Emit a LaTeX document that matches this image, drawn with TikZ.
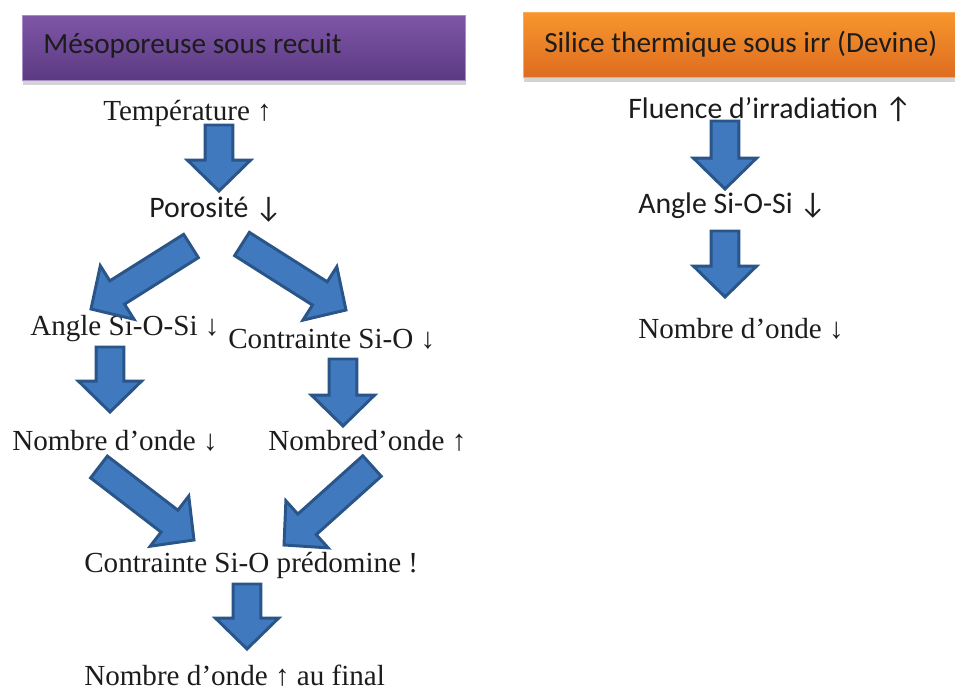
\documentclass[tikz,border=0pt]{standalone}
\usepackage{fontspec}
\setmainfont{Liberation Serif}
\newfontfamily\calibfont{Carlito}
\usetikzlibrary{calc,shadows}

\definecolor{arrowfill}{RGB}{65,121,190}
\definecolor{arrowedge}{RGB}{41,85,136}
\definecolor{textdark}{RGB}{28,28,28}
\definecolor{purpletop}{RGB}{126,86,166}
\definecolor{purplebot}{RGB}{92,58,130}
\definecolor{purpleline}{RGB}{168,140,200}
\definecolor{orangetop}{RGB}{247,150,45}
\definecolor{orangebot}{RGB}{222,108,32}
\definecolor{orangeline}{RGB}{250,172,85}

% block arrow from tail #1 to tip #2
\newcommand{\fatarrow}[2]{%
  \coordinate (#1#2neck) at ($(#2)!22pt!(#1)$);
  \draw[fatarrow] ($(#1)!9.8pt!90:(#2)$) -- ($(#1#2neck)!9.8pt!90:(#2)$)
    -- ($(#1#2neck)!22.5pt!90:(#2)$) -- (#2) -- ($(#1#2neck)!22.5pt!-90:(#2)$)
    -- ($(#1#2neck)!9.8pt!-90:(#2)$) -- ($(#1)!9.8pt!-90:(#2)$) -- cycle;}

\begin{document}
\begin{tikzpicture}[x=0.025cm,y=-0.025cm]

\useasboundingbox (0,0) rectangle (955,692);

\tikzstyle{every node}=[inner sep=0pt,anchor=base west,text=textdark];
\tikzstyle{serif}=[font=\fontsize{20.7}{24}\selectfont];
\tikzstyle{sans}=[font=\calibfont\fontsize{21.2}{26}\selectfont];
\tikzstyle{titletext}=[font=\calibfont\fontsize{20.8}{26}\selectfont];
\tikzstyle{titlebox}=[anchor=north west,minimum height=1.625cm,line width=0.8pt,
  drop shadow={shadow xshift=0pt,shadow yshift=-3pt,opacity=0.35}];
\tikzset{fatarrow/.style={draw=arrowedge,fill=arrowfill,line width=2.1pt,line join=miter}};

% Draw the two title boxes
\node[titlebox,minimum width=11.075cm,draw=purpleline,top color=purpletop,bottom color=purplebot]
  (mesobox) at (22,15) {};
\node[titlebox,minimum width=11.1cm,draw=orangeline,top color=orangetop,bottom color=orangebot]
  (silbox) at (523,12) {};
\node[titletext] (meso) at (43,53) {Mésoporeuse sous recuit};
\node[titletext] (sil) at (544,52) {Silice thermique sous irr (Devine)};

% Left chain: annealing
\node[serif] (temp) at (103,120) {Température ↑};
\node[sans] (poro) at (149,217) {Porosité ↓};
\node[serif] (angl) at (30,335) {Angle Si-O-Si ↓};
\node[serif] (cont) at (228,348) {Contrainte Si-O ↓};
\node[serif] (ndol) at (12,450) {Nombre d’onde ↓};
\node[serif] (ndor) at (268,450) {Nombred’onde ↑};
\node[serif] (pred) at (84,572) {Contrainte Si-O prédomine !};
\node[serif] (fin) at (84,685) {Nombre d’onde ↑ au final};

% Right chain: irradiation
\node[sans] (flu) at (628,118) {Fluence d’irradiation ↑};
\node[sans] (angr) at (638,213) {Angle Si-O-Si ↓};
\node[serif] (ndr) at (638,338) {Nombre d’onde ↓};

% Arrow ends
\coordinate (a1) at (219,125);  \coordinate (b1) at (219,191);
\coordinate (a2) at (191,246);  \coordinate (b2) at (91,309);
\coordinate (a3) at (242,244);  \coordinate (b3) at (346,310);
\coordinate (a4) at (110,347);  \coordinate (b4) at (110,412);
\coordinate (a5) at (343,359);  \coordinate (b5) at (343,426);
\coordinate (a6) at (99,467);   \coordinate (b6) at (194,540);
\coordinate (a7) at (372,466);  \coordinate (b7) at (284,545);
\coordinate (a8) at (247,584);  \coordinate (b8) at (247,649);
\coordinate (a9) at (725,121);  \coordinate (b9) at (725,189);
\coordinate (a10) at (725,231); \coordinate (b10) at (725,297);

% Draw the block arrows
\foreach \i in {1,...,10}
  \fatarrow{a\i}{b\i};

\end{tikzpicture}
\end{document}
